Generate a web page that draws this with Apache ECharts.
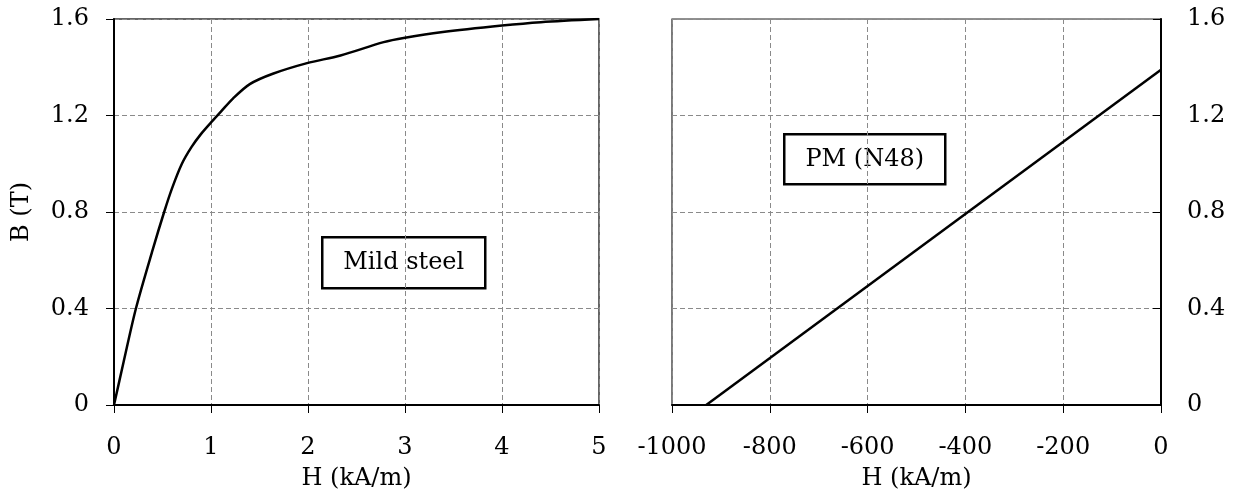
<!DOCTYPE html>
<html lang="en">
<head>
    <meta charset="UTF-8">
    <title>B-H curves</title>
    <style>
        html, body { margin: 0; padding: 0; background: #fff; }
    </style>
</head>
<script src="https://cdn.jsdelivr.net/npm/echarts@6/dist/echarts.min.js"></script>
<body>
    <div id="main" style="width: 1239px;height:493px;"></div>
    <script>
        // mild steel B-H curve (H in kA/m, B in T)
        var steelH = [0, 0.1, 0.226, 0.4, 0.517, 0.6, 0.7, 0.8, 0.9, 1.02, 1.1, 1.226, 1.4, 1.637, 1.99, 2.335, 2.78, 3.0, 3.37, 4.0, 4.4, 5.0];
        var steelB = [0, 0.18, 0.4, 0.645, 0.8, 0.9, 1.0, 1.07, 1.125, 1.18, 1.215, 1.27, 1.33, 1.373, 1.417, 1.449, 1.504, 1.522, 1.545, 1.573, 1.587, 1.6];
        // PM (N48) demagnetisation line
        var pmH = [-930, 0];
        var pmB = [0, 1.39];
        var bTicks = [0, 0.4, 0.8, 1.2, 1.6];

        var font = 'DejaVu Serif';
        var labelStyle = { fontFamily: font, fontSize: 24, color: '#000' };
        var gridLine = { show: true, lineStyle: { color: '#8a8a8a', width: 1, type: [5, 3] } };

        function pairs(xs, ys) {
            return xs.map(function (x, i) { return [x, ys[i]]; });
        }

        var myChart = echarts.init(document.getElementById('main'));
        myChart.setOption({
            backgroundColor: '#fff',
            animation: false,
            grid: [
                { left: 114, top: 19, width: 485, height: 386, outerBoundsMode: 'none', show: true, borderColor: '#333', borderWidth: 1.5 },
                { left: 672, top: 19, width: 489, height: 386, outerBoundsMode: 'none', show: true, borderColor: '#222', borderWidth: 1.2 }
            ],
            xAxis: [
                {
                    gridIndex: 0, type: 'value', min: 0, max: 5, interval: 1,
                    name: 'H (kA/m)', nameLocation: 'middle', nameGap: 62,
                    nameTextStyle: labelStyle,
                    axisLine: { lineStyle: { color: '#000', width: 2 } },
                    axisTick: { length: 8, lineStyle: { color: '#000', width: 1 } },
                    axisLabel: Object.assign({ margin: 31 }, labelStyle),
                    splitLine: gridLine
                },
                {
                    gridIndex: 1, type: 'value', min: -1000, max: 0, interval: 200,
                    name: 'H (kA/m)', nameLocation: 'middle', nameGap: 62,
                    nameTextStyle: labelStyle,
                    axisLine: { onZero: false, lineStyle: { color: '#000', width: 2 } },
                    axisTick: { length: 8, lineStyle: { color: '#000', width: 1 } },
                    axisLabel: Object.assign({ margin: 31, formatter: function (v) { return String(v); } }, labelStyle),
                    splitLine: gridLine
                }
            ],
            yAxis: [
                {
                    gridIndex: 0, type: 'value', min: bTicks[0], max: bTicks[bTicks.length - 1], interval: 0.4,
                    name: 'B (T)', nameLocation: 'middle', nameGap: 80, nameRotate: 90,
                    nameTextStyle: labelStyle,
                    axisLine: { show: true, lineStyle: { color: '#000', width: 2 } },
                    axisTick: { show: true, length: 8, lineStyle: { color: '#000', width: 1 } },
                    axisLabel: Object.assign({ margin: 25 }, labelStyle),
                    splitLine: gridLine
                },
                {
                    gridIndex: 1, type: 'value', position: 'right', min: bTicks[0], max: bTicks[bTicks.length - 1], interval: 0.4,
                    axisLine: { show: true, onZero: false, lineStyle: { color: '#000', width: 2 } },
                    axisTick: { show: true, inside: true, length: 8, lineStyle: { color: '#000', width: 1 } },
                    axisLabel: Object.assign({ margin: 26 }, labelStyle),
                    splitLine: gridLine
                }
            ],
            series: [
                {
                    type: 'line', xAxisIndex: 0, yAxisIndex: 0,
                    data: pairs(steelH, steelB),
                    showSymbol: false, smooth: 0.3,
                    lineStyle: { color: '#000', width: 2.5 }
                },
                {
                    type: 'line', xAxisIndex: 1, yAxisIndex: 1,
                    data: pairs(pmH, pmB),
                    showSymbol: false,
                    lineStyle: { color: '#000', width: 2.5 }
                }
            ],
            graphic: [
                {
                    type: 'group', left: 321, top: 236,
                    children: [
                        { type: 'rect', shape: { x: 0, y: 0, width: 163, height: 51 }, style: { fill: '#fff', stroke: '#000', lineWidth: 2.5 } },
                        { type: 'text', x: 81.5, y: 26, style: { text: 'Mild steel', fontFamily: font, fontSize: 24, fill: '#000', align: 'center', verticalAlign: 'middle' } }
                    ]
                },
                {
                    type: 'group', left: 783, top: 133,
                    children: [
                        { type: 'rect', shape: { x: 0, y: 0, width: 161, height: 50 }, style: { fill: '#fff', stroke: '#000', lineWidth: 2.5 } },
                        { type: 'text', x: 80.5, y: 25.5, style: { text: 'PM (N48)', fontFamily: font, fontSize: 24, fill: '#000', align: 'center', verticalAlign: 'middle' } }
                    ]
                }
            ]
        });
    </script>
</body>
</html>
